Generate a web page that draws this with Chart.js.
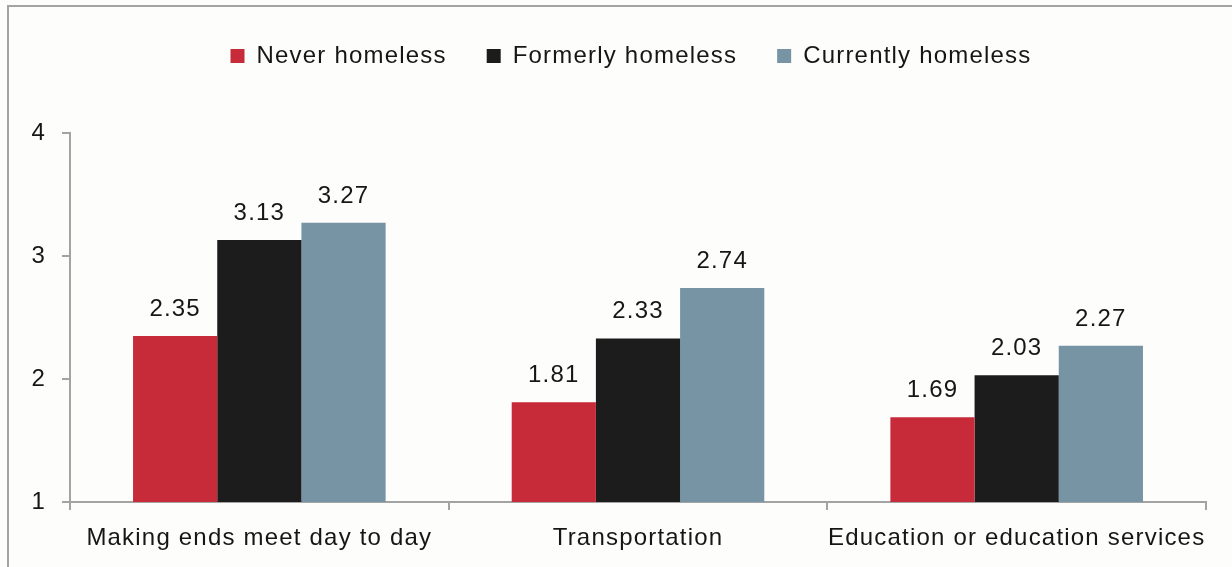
<!DOCTYPE html>
<html lang="en">
<head>
  <meta charset="UTF-8">
  <title>Homelessness and difficulty</title>
  <script src="https://cdn.jsdelivr.net/npm/chart.js"></script>
  <style>
    body {
      margin: 0;
      background: #fdfdfc;
      overflow: hidden;
    }

    .frame {
      position: absolute;
      left: 7px;
      top: 5px;
      width: 1400px;
      height: 700px;
      border: 2px solid #a3a3a3;
    }

    .wrap {
      position: absolute;
      left: 0;
      top: 0;
      width: 1232px;
      height: 567px;
    }
  </style>
</head>
<body>
  <div class="frame"></div>
  <div class="wrap"><canvas id="chart"></canvas></div>

  <script>
    const categories = ['Making ends meet day to day', 'Transportation', 'Education or education services'];
    const neverHomeless = [2.35, 1.81, 1.69];
    const formerlyHomeless = [3.13, 2.33, 2.03];
    const currentlyHomeless = [3.27, 2.74, 2.27];
    const yTicks = [1, 2, 3, 4];

    const FONT = "'Liberation Sans', Arial, sans-serif";
    const TEXT = '#161616';
    const AXIS = '#a3a3a3';

    // the text in this chart is set a little loose
    const spacing = {
      id: 'spacing',
      beforeLayout(chart) { chart.ctx.letterSpacing = '1.2px'; },
      beforeDraw(chart) { chart.ctx.letterSpacing = '1.2px'; }
    };

    // keep the legend up near the top edge, well clear of the plot
    const legendSpot = {
      id: 'legendSpot',
      afterLayout(chart) {
        const lg = chart.legend;
        const h = lg.bottom - lg.top;
        lg.top = 4;
        lg.bottom = 4 + h;
        lg.left -= 7;
        lg.right -= 7;
      }
    };

    // value printed above each bar
    const barValues = {
      id: 'barValues',
      afterDatasetsDraw(chart) {
        const ctx = chart.ctx;
        ctx.save();
        ctx.font = '24px ' + FONT;
        ctx.fillStyle = TEXT;
        ctx.textAlign = 'center';
        ctx.textBaseline = 'alphabetic';
        chart.data.datasets.forEach((ds, i) => {
          chart.getDatasetMeta(i).data.forEach((bar, j) => {
            ctx.fillText(ds.data[j].toFixed(2), bar.x, bar.y - 20);
          });
        });
        ctx.restore();
      }
    };

    new Chart(document.getElementById('chart'), {
      type: 'bar',
      data: {
        labels: categories,
        datasets: [
          { label: 'Never homeless', data: neverHomeless, backgroundColor: '#c72a38' },
          { label: 'Formerly homeless', data: formerlyHomeless, backgroundColor: '#1d1c1d' },
          { label: 'Currently homeless', data: currentlyHomeless, backgroundColor: '#7694a3' }
        ]
      },
      options: {
        responsive: true,
        maintainAspectRatio: false,
        animation: false,
        layout: { padding: { top: 4, right: 26, left: 0, bottom: 0 } },
        datasets: {
          bar: { categoryPercentage: 0.667, barPercentage: 1.0 }
        },
        plugins: {
          tooltip: { enabled: false },
          legend: {
            position: 'top',
            fullSize: false,
            labels: {
              boxWidth: 14,
              boxHeight: 14,
              padding: 40,
              color: TEXT,
              font: { family: FONT, size: 24 }
            }
          }
        },
        scales: {
          x: {
            grid: { drawOnChartArea: false, drawTicks: true, tickLength: 8, color: AXIS, lineWidth: 2 },
            border: { color: AXIS, width: 2 },
            ticks: { color: TEXT, font: { family: FONT, size: 24 }, padding: 14, maxRotation: 0, autoSkip: false },
            afterFit(scale) { scale.height = 65; }
          },
          y: {
            min: 1,
            max: 4,
            afterBuildTicks(scale) { scale.ticks = yTicks.map(v => ({ value: v })); },
            grid: { drawOnChartArea: false, drawTicks: true, tickLength: 8, color: AXIS, lineWidth: 2 },
            border: { color: AXIS, width: 2 },
            ticks: { color: TEXT, font: { family: FONT, size: 24 }, padding: 16 },
            afterFit(scale) {
              scale.width = 70;
              scale.paddingTop = 133;
            }
          }
        }
      },
      plugins: [spacing, legendSpot, barValues]
    });
  </script>
</body>
</html>
